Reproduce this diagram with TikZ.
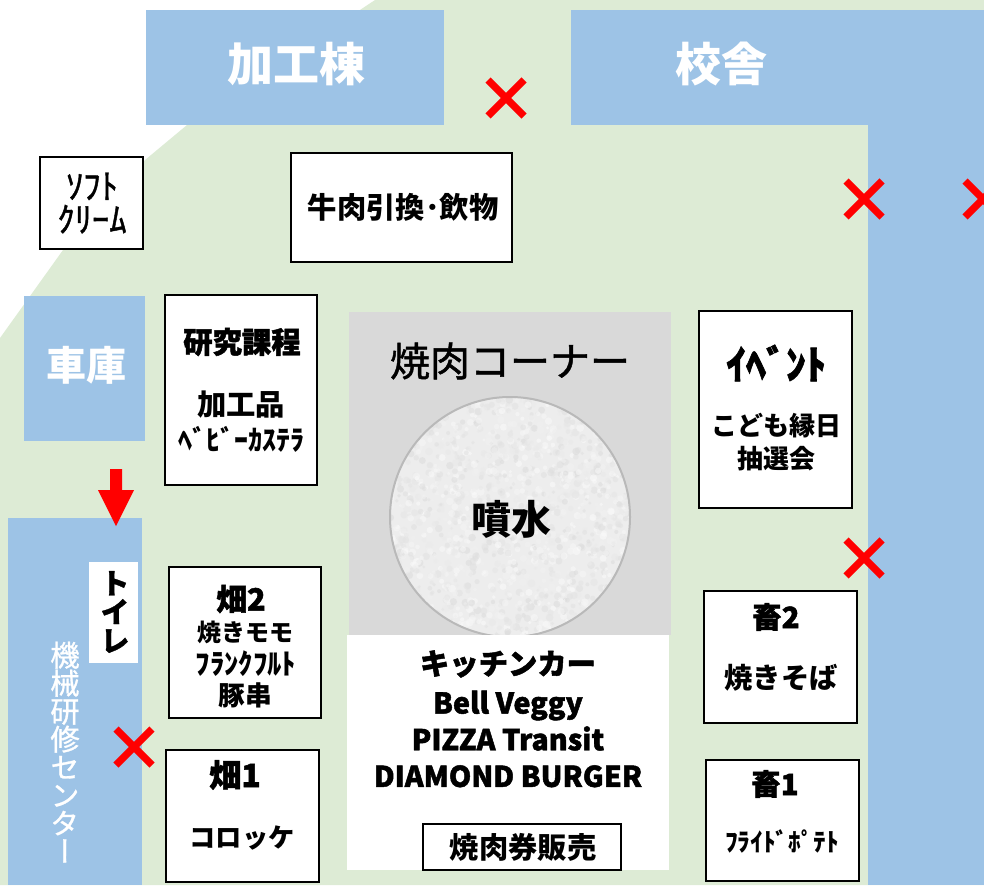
\documentclass[tikz,border=0pt]{standalone}
\usepackage{fontspec}
\usepackage{graphicx}
\setmainfont{Noto Sans CJK JP}
\newfontfamily\jpbase{Noto Sans CJK JP}
\newfontfamily\jpmid{Noto Sans CJK JP}[FakeBold=1.2]
\newfontfamily\jpheavy{Noto Sans CJK JP}[BoldFeatures={FakeBold=1.6}]
\newfontfamily\jpvert{Noto Sans CJK JP}[RawFeature=+vert,FakeBold=1.0]
\newcommand{\jpbold}{\jpbase\bfseries}
\newcommand{\jpblack}{\jpheavy\bfseries}
\newcommand{\px}[2]{\fontsize{#1}{#2}\selectfont}
\definecolor{lawn}{HTML}{DDEBD5}
\definecolor{bldg}{HTML}{9DC3E6}
\definecolor{plaza}{HTML}{D9D9D9}
\definecolor{signred}{HTML}{FF0000}
\tikzset{
  stall/.style={draw=black,line width=0.85pt,fill=white},
  bldgfill/.style={fill=bldg},
  lbl/.style={inner sep=0pt,outer sep=0pt,align=center,text=black},
  wlbl/.style={lbl,text=white},
  xmark/.style={signred,line width=5.4pt},
}
\pgfmathsetseed{4217}
\begin{document}
\begin{tikzpicture}[x=0.75pt,y=-0.75pt]
\useasboundingbox (0,0) rectangle (984,885);
\begin{scope}
\clip (0,0) rectangle (984,885);
% lawn
\fill[lawn] (375,0) -- (984,0) -- (984,885) -- (0,885) -- (0,338) -- (63,250) -- (145,160) -- (187,125) -- cycle;
% buildings
\fill[bldgfill] (146,10) rectangle (444,125);
\fill[bldgfill] (571,10) rectangle (984,125);
\fill[bldgfill] (868,125) rectangle (984,885);
\fill[bldgfill] (24,296) rectangle (145,441);
\fill[bldgfill] (8,518) rectangle (142,885);
\fill[white] (89,562) rectangle (138,663);
% plaza
\fill[plaza] (349,312) rectangle (671,635);
% fountain
\begin{scope}
\clip (510,517) circle (120);
\fill[white!93!black] (510,517) circle (120);
\foreach \i in {1,...,1800}{
  \pgfmathsetmacro{\xx}{390+240*rnd}
  \pgfmathsetmacro{\yy}{397+240*rnd}
  \pgfmathsetmacro{\rr}{1.5+2.5*rnd}
  \pgfmathsetmacro{\sh}{int(86+14*rnd)}
  \fill[white!\sh!black,opacity=.5] (\xx,\yy) circle (\rr);
}
\end{scope}
\draw[gray!55,line width=1.5pt] (510,517) circle (120);
% kitchen car
\fill[white] (347,635) rectangle (669,870);
% stalls
\draw[stall] (40,157) rectangle (143,249);
\draw[stall] (291,153) rectangle (512,262);
\draw[stall] (165,295) rectangle (317,485);
\draw[stall] (699,311) rectangle (852,508);
\draw[stall] (169,567) rectangle (321,718);
\draw[stall] (166,750) rectangle (319,882);
\draw[stall] (704,591) rectangle (857,723);
\draw[stall] (706,760) rectangle (859,881);
\draw[stall] (423,824) rectangle (621,870);
% arrow
\fill[signred] (110,469) -- (122,469) -- (122,490) -- (134,490) -- (116,526) -- (98,490) -- (110,490) -- cycle;
% crosses
\foreach \cx/\cy in {506/98,864/199,983/199,864/558,134/747}{
  \draw[xmark] (\cx-18,\cy-18) -- (\cx+18,\cy+18) (\cx-18,\cy+18) -- (\cx+18,\cy-18);
}
\end{scope}
% building labels
\node[wlbl,font=\jpbold\px{34.5}{40}] (kakou) at (296,64) {加工棟};
\node[wlbl,font=\jpbold\px{34.5}{40}] (kousha) at (721,64) {校舎};
\node[wlbl,font=\jpbold\px{30}{36}] (shako) at (86,365) {車庫};
\node[wlbl,font=\jpvert\px{22}{21}] (kikai) at (65,752) {機\\械\\研\\修\\セ\\ン\\タ\\ー};
\node[lbl,font=\jpvert\bfseries\px{22}{21.5}] (toire) at (115,612) {ト\\イ\\レ};
% stall labels
\node[lbl,font=\jpmid\px{26}{25}] (soft) at (92,203) {ｿﾌﾄ\\ｸﾘｰﾑ};
\node[lbl,font=\jpbold\px{22}{26}] (gyuniku) at (403,207) {牛肉引換･飲物};
\node[lbl,font=\jpblack\px{22}{26}] (kenkyu) at (242,342) {研究課程};
\node[lbl,font=\jpbold\px{22}{26}] (kakouhin) at (241,405) {加工品};
\node[lbl,font=\jpbold\px{21}{25}] (kastera) at (241,439) {ﾍﾞﾋﾞｰｶｽﾃﾗ};
\node[lbl,font=\jpblack\px{30}{30}] (event) at (776,363) {ｲﾍﾞﾝﾄ};
\node[lbl,font=\jpbold\px{19.5}{25}] (kodomo) at (776,442) {こども縁日\\抽選会};
\node[lbl,font=\jpblack\px{23}{27}] (hata2) at (241,599) {畑2};
\node[lbl,font=\jpbold\px{18}{23}] (momo) at (245,632) {焼きモモ};
\node[lbl,font=\jpbold\px{21.5}{25}] (frank) at (246,664) {ﾌﾗﾝｸﾌﾙﾄ};
\node[lbl,font=\jpbold\px{20}{23}] (butakushi) at (245,695) {豚串};
\node[lbl,font=\jpblack\px{24}{28}] (hata1) at (235,775) {畑1};
\node[lbl,font=\jpbold\px{19.7}{24}] (korokke) at (242,838) {コロッケ};
\node[lbl,font=\jpblack\px{22}{26}] (chiku2) at (776,617) {畜2};
\node[lbl,font=\jpbold\px{21.3}{26}] (yakisoba) at (781,678) {焼きそば};
\node[lbl,font=\jpblack\px{22}{26}] (chiku1) at (775,784) {畜1};
\node[lbl,font=\jpbold\px{19}{23}] (potato) at (782,841) {ﾌﾗｲﾄﾞﾎﾟﾃﾄ};
% centre labels
\node[lbl,font=\jpmid\px{30}{36}] (yakiniku) at (510,361) {焼肉コーナー};
\node[lbl,font=\jpbold\px{30}{36}] (funsui) at (511,519) {噴水};
\node[lbl,font=\jpblack\px{22}{27}] (kitchen) at (508,664) {キッチンカー};
\node[lbl,font=\jpblack\px{21.5}{27.5}] (shops) at (508,739) {Bell Veggy\\PIZZA Transit\\DIAMOND BURGER};
\node[lbl,font=\jpbold\px{22}{27}] (ken) at (523,847) {焼肉券販売};
\end{tikzpicture}
\end{document}
